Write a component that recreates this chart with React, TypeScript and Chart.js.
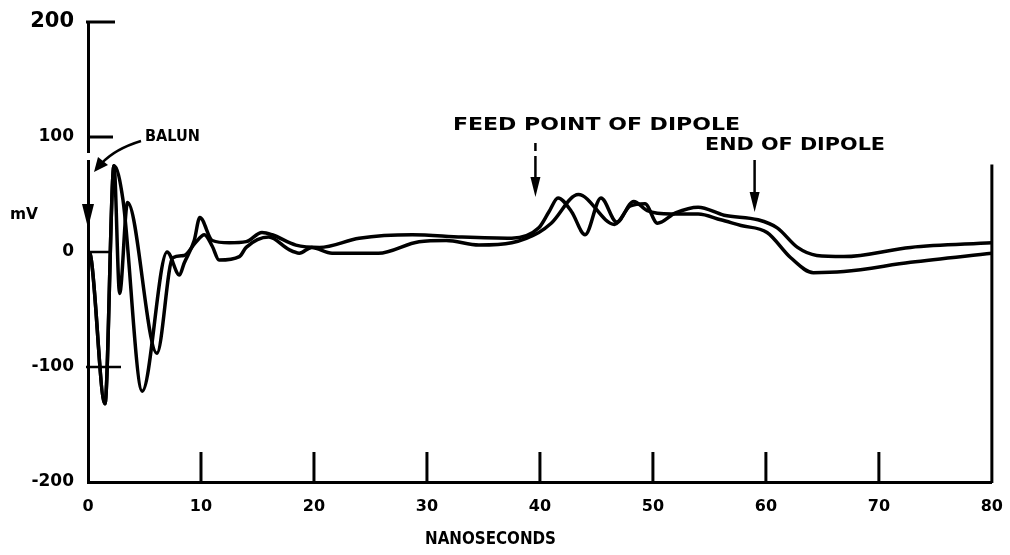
import React, { useEffect, useRef } from "react";
import { Chart, registerables } from "chart.js";

Chart.register(...registerables);

// ---- data (ns, mV) ----
const timeA = [0, 0.2, 1.5, 2.3, 3.1, 4.8, 7.0, 8.1, 8.5, 9.4, 9.9, 11.0, 12.5, 14.0, 15.4, 16.3, 18.4, 20.5, 24.0, 28.7, 33.1, 37.5, 39.9, 40.8, 41.6, 42.8, 44.0, 45.4, 46.8, 48.3, 49.5, 51.6, 54.0, 56.0, 57.8, 60.1, 62.2, 64.2, 66.9, 72.8, 80];
const voltA = [0, -2, -132, 75, 45, -121, 0, -20, -10, 10, 30, 10, 8, 9, 17, 15, 6, 4, 12, 15, 13, 12, 21, 35, 47, 35, 15, 47, 26, 44, 36, 33, 33, 28, 23, 17, -5, -18, -17, -9, -1];

const timeB = [0, 0.2, 1.5, 2.3, 2.8, 3.5, 6.1, 7.5, 8.5, 9.5, 10.3, 11.0, 11.6, 13.4, 14.0, 16.0, 17.8, 18.7, 19.8, 21.6, 25.7, 29.3, 31.7, 34.6, 37.5, 39.9, 41.0, 43.4, 46.6, 48.0, 49.3, 50.4, 52.0, 54.0, 56.3, 59.3, 61.0, 62.8, 64.5, 66.9, 72.8, 80];
const voltB = [0, -2, -132, 75, -36, 43, -88, -5, -3, 8, 15, 5, -7, -4, 4, 13, 2, -1, 4, -1, -1, 9, 10, 6, 8, 17, 25, 50, 24, 40, 42, 25, 34, 39, 32, 28, 21, 4, -3, -4, 4, 8];

const xTickValues = [0, 10, 20, 30, 40, 50, 60, 70, 80];
const yTickValues = [-200, -100, 0, 100, 200];
const yTickLabels = ["-200", "-100", "0", "100", "200"];

const xTitle = "NANOSECONDS";
const yTitle = "mV";
const balunLabel = "BALUN";
const feedLabel = "FEED POINT OF DIPOLE";
const endLabel = "END OF DIPOLE";
const feedTime = 39.6;
const endTime = 59.0;
const rightLineTop = 76;

const FONT = '"DejaVu Sans", "Liberation Sans", sans-serif';

function toPoints(ts: number[], vs: number[]) {
  return ts.map((t, i) => ({ x: t, y: vs[i] }));
}

function fitText(ctx: CanvasRenderingContext2D, text: string, left: number, right: number, cy: number, size: number) {
  ctx.save();
  ctx.font = `bold ${size}px ${FONT}`;
  const w = ctx.measureText(text).width;
  ctx.translate(left, cy);
  ctx.scale((right - left) / w, 1);
  ctx.textAlign = "left";
  ctx.textBaseline = "middle";
  ctx.fillText(text, 0, 0);
  ctx.restore();
}

function seg(ctx: CanvasRenderingContext2D, x1: number, y1: number, x2: number, y2: number) {
  ctx.beginPath();
  ctx.moveTo(x1, y1);
  ctx.lineTo(x2, y2);
  ctx.stroke();
}

function headDown(ctx: CanvasRenderingContext2D, x: number, tipY: number, len: number, half: number) {
  ctx.beginPath();
  ctx.moveTo(x, tipY);
  ctx.lineTo(x - half, tipY - len);
  ctx.lineTo(x + half, tipY - len);
  ctx.closePath();
  ctx.fill();
}

const decorPlugin = {
  id: "decor",
  afterDraw(chart: any) {
    const { ctx, scales } = chart;
    const xs = scales.x;
    const ys = scales.y;
    const x0 = xs.getPixelForValue(0);
    const yBottom = ys.getPixelForValue(-200);
    ctx.save();
    ctx.strokeStyle = "#000";
    ctx.fillStyle = "#000";
    ctx.lineCap = "butt";
    ctx.lineWidth = 3;

    // y tick marks (inside)
    seg(ctx, x0 - 2, ys.getPixelForValue(200), x0 + 27, ys.getPixelForValue(200));
    seg(ctx, x0, ys.getPixelForValue(100), x0 + 25, ys.getPixelForValue(100));
    ctx.lineWidth = 2.5;
    seg(ctx, x0, ys.getPixelForValue(0), x0 + 22, ys.getPixelForValue(0));
    seg(ctx, x0 - 2, ys.getPixelForValue(-100), x0 + 33, ys.getPixelForValue(-100));
    ctx.lineWidth = 3;

    // x tick marks (inside, upward)
    for (const v of xTickValues) {
      if (v === 0 || v === 80) continue;
      const px = xs.getPixelForValue(v);
      seg(ctx, px, yBottom, px, yBottom - 30);
    }

    // right vertical line
    const xr = xs.getPixelForValue(80);
    seg(ctx, xr, ys.getPixelForValue(rightLineTop), xr, yBottom + 1);

    // small gap in the y-axis above the arrow
    ctx.save();
    ctx.fillStyle = "#fff";
    ctx.fillRect(x0 - 3, 153, 6, 7);
    ctx.restore();

    // arrow at x = 0
    headDown(ctx, x0, 228, 24, 6);

    // BALUN label + curved arrow
    fitText(ctx, balunLabel, 145, 200, 137, 15);
    ctx.lineWidth = 2.5;
    ctx.beginPath();
    ctx.moveTo(141, 141);
    ctx.quadraticCurveTo(115, 149, 102, 163);
    ctx.stroke();
    ctx.beginPath();
    ctx.moveTo(94, 172);
    ctx.lineTo(98, 157);
    ctx.lineTo(108, 165);
    ctx.closePath();
    ctx.fill();

    // feed point label + arrow
    fitText(ctx, feedLabel, 453, 740, 126, 17);
    const fx = xs.getPixelForValue(feedTime);
    ctx.lineWidth = 2.5;
    seg(ctx, fx, 143, fx, 151);
    seg(ctx, fx, 156, fx, 180);
    headDown(ctx, fx, 197, 20, 5);

    // end of dipole label + arrow
    fitText(ctx, endLabel, 705, 885, 146, 17);
    const ex = xs.getPixelForValue(endTime);
    seg(ctx, ex, 160, ex, 195);
    headDown(ctx, ex, 212, 20, 5);

    // axis titles
    fitText(ctx, yTitle, 10, 38, 215, 15);
    fitText(ctx, xTitle, 425, 556, 540, 17);

    ctx.restore();
  },
};

export default function App() {
  const canvasRef = useRef<HTMLCanvasElement | null>(null);

  useEffect(() => {
    const canvas = canvasRef.current;
    if (!canvas) return;
    const lineStyle = {
      borderColor: "#000",
      borderWidth: 3.5,
      pointRadius: 0,
      fill: false,
      cubicInterpolationMode: "monotone" as const,
    };
    const chart = new Chart(canvas, {
      type: "line",
      data: {
        datasets: [
          { label: "A", data: toPoints(timeA, voltA), ...lineStyle },
          { label: "B", data: toPoints(timeB, voltB), ...lineStyle },
        ],
      },
      options: {
        animation: false,
        responsive: true,
        maintainAspectRatio: false,
        layout: { padding: { top: 22, right: 15, left: 0, bottom: 0 } },
        plugins: { legend: { display: false }, tooltip: { enabled: false } },
        scales: {
          x: {
            type: "linear",
            min: 0,
            max: 80,
            afterFit: (s: any) => {
              s.height = 73;
            },
            afterBuildTicks: (s: any) => {
              s.ticks = xTickValues.map((v) => ({ value: v }));
            },
            grid: { display: false },
            border: { display: true, color: "#000", width: 3 },
            ticks: {
              color: "#000",
              padding: 7,
              maxRotation: 0,
              autoSkip: false,
              font: { family: FONT, size: 16, weight: "bold" },
              callback: (v: any) => String(v),
            },
          },
          y: {
            type: "linear",
            min: -200,
            max: 200,
            afterFit: (s: any) => {
              s.width = 88;
            },
            afterBuildTicks: (s: any) => {
              s.ticks = yTickValues.map((v) => ({ value: v }));
            },
            grid: { display: false },
            border: { display: true, color: "#000", width: 3 },
            ticks: {
              color: "#000",
              padding: 6,
              autoSkip: false,
              font: (c: any) =>
                c.tick && c.tick.value === 200
                  ? { family: FONT, size: 21, weight: "bold" }
                  : { family: FONT, size: 17, weight: "bold" },
              callback: (v: any) => {
                const i = yTickValues.indexOf(Number(v));
                return i >= 0 ? yTickLabels[i] : "";
              },
            },
          },
        },
      },
      plugins: [decorPlugin],
    });
    return () => chart.destroy();
  }, []);

  return (
    <div style={{ position: "absolute", left: 0, top: 0, width: 1010, height: 555, background: "#fff" }}>
      <canvas ref={canvasRef} />
    </div>
  );
}
